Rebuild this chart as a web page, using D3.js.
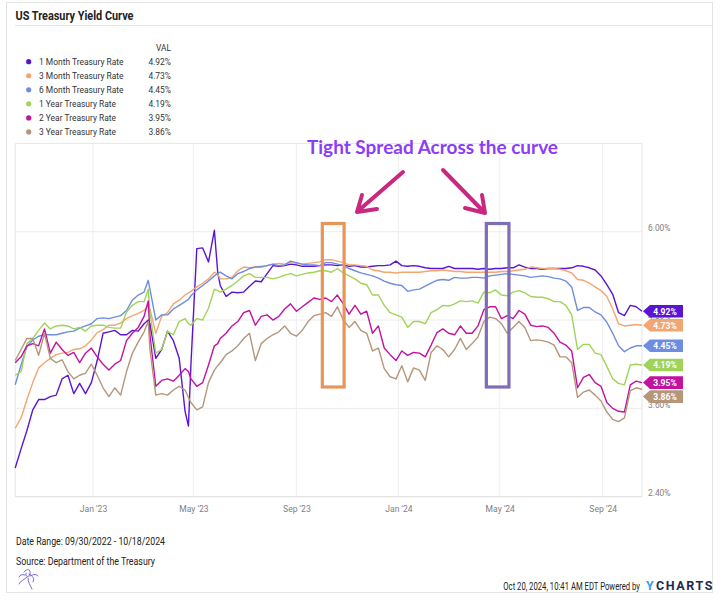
<!DOCTYPE html>
<html><head><meta charset="utf-8">
<script src="https://cdn.jsdelivr.net/npm/d3@7"></script>
<style>
html,body{margin:0;padding:0;background:#fff;}
svg{display:block;font-family:Roboto,"Noto Sans",sans-serif;}
</style></head><body>
<svg id="chart" width="727" height="606"></svg>
<script>
// ---------------- DATA ----------------
const dates = [
 "2022-09-30","2022-10-07","2022-10-14","2022-10-21","2022-10-28","2022-11-04","2022-11-11","2022-11-18","2022-11-25","2022-12-02","2022-12-09","2022-12-16","2022-12-23","2022-12-30",
 "2023-01-06","2023-01-13","2023-01-20","2023-01-27","2023-02-03","2023-02-10","2023-02-17","2023-02-24","2023-03-03","2023-03-08","2023-03-10","2023-03-17","2023-03-24","2023-03-31",
 "2023-04-07","2023-04-14","2023-04-21","2023-04-25","2023-04-28","2023-05-05","2023-05-12","2023-05-19","2023-05-26","2023-05-30",
 "2023-06-02","2023-06-09","2023-06-16","2023-06-23","2023-06-30","2023-07-07","2023-07-14","2023-07-21","2023-07-28","2023-08-04","2023-08-11","2023-08-18","2023-08-25","2023-09-01","2023-09-08","2023-09-15","2023-09-22","2023-09-29",
 "2023-10-06","2023-10-13","2023-10-20","2023-10-27","2023-11-03","2023-11-10","2023-11-17","2023-11-24","2023-12-01","2023-12-08","2023-12-15","2023-12-22","2023-12-29",
 "2024-01-05","2024-01-12","2024-01-19","2024-01-26","2024-02-02","2024-02-09","2024-02-16","2024-02-23","2024-03-01","2024-03-08","2024-03-15","2024-03-22","2024-03-29",
 "2024-04-05","2024-04-12","2024-04-19","2024-04-26","2024-05-03","2024-05-10","2024-05-17","2024-05-24","2024-05-31","2024-06-07","2024-06-14","2024-06-21","2024-06-28",
 "2024-07-05","2024-07-12","2024-07-19","2024-07-26","2024-08-02","2024-08-09","2024-08-16","2024-08-23","2024-08-30","2024-09-06","2024-09-13","2024-09-20","2024-09-27","2024-10-04","2024-10-11","2024-10-18"
];

const oneMonth = [
 2.79,3.05,3.30,3.58,3.72,3.72,3.76,3.78,4.00,4.05,3.80,3.94,3.80,3.95,
 4.25,4.62,4.64,4.66,4.60,4.60,4.66,4.65,4.75,4.80,4.75,4.28,4.40,4.65,
 4.52,4.28,3.56,3.36,4.20,5.77,5.78,5.59,6.02,5.45,
 5.27,5.12,5.18,5.17,5.18,5.26,5.33,5.32,5.43,5.54,5.53,5.54,5.56,5.55,5.53,5.53,5.53,5.54,
 5.55,5.55,5.54,5.55,5.53,5.54,5.52,5.52,5.53,5.54,5.54,5.55,5.60,
 5.54,5.53,5.54,5.53,5.51,5.50,5.50,5.50,5.53,5.50,5.50,5.50,5.50,
 5.49,5.50,5.49,5.50,5.50,5.51,5.51,5.55,5.52,5.50,5.50,5.49,5.50,
 5.50,5.50,5.50,5.51,5.54,5.53,5.51,5.48,5.40,5.28,5.15,4.90,4.86,5.00,4.98,4.92
];
const threeMonth = [
 3.33,3.47,3.72,3.95,4.15,4.22,4.28,4.33,4.35,4.36,4.40,4.41,4.45,4.53,
 4.63,4.67,4.73,4.73,4.76,4.82,4.86,4.89,4.93,5.00,4.95,4.62,4.85,4.90,
 5.02,5.07,5.14,5.17,5.19,5.25,5.30,5.36,5.45,5.42,
 5.36,5.36,5.38,5.47,5.52,5.51,5.52,5.53,5.54,5.56,5.57,5.56,5.58,5.57,5.56,5.57,5.58,5.59,
 5.62,5.62,5.60,5.58,5.55,5.55,5.54,5.53,5.48,5.47,5.45,5.45,5.44,
 5.45,5.45,5.45,5.45,5.46,5.47,5.47,5.48,5.47,5.46,5.46,5.45,5.45,
 5.45,5.45,5.45,5.45,5.46,5.46,5.47,5.48,5.49,5.52,5.51,5.50,5.50,
 5.50,5.49,5.47,5.44,5.35,5.34,5.30,5.25,5.20,5.12,4.95,4.75,4.72,4.73,4.74,4.73
];
const sixMonth = [
 3.92,4.19,4.44,4.53,4.58,4.60,4.60,4.60,4.62,4.64,4.65,4.69,4.72,4.75,
 4.82,4.83,4.82,4.84,4.86,4.93,5.07,5.14,5.18,5.34,5.22,4.80,4.87,4.87,
 4.95,5.00,5.05,5.08,5.13,5.21,5.27,5.33,5.40,5.43,
 5.45,5.40,5.36,5.43,5.46,5.50,5.52,5.52,5.54,5.56,5.54,5.55,5.60,5.58,5.56,5.55,5.55,5.54,
 5.58,5.58,5.56,5.54,5.50,5.47,5.44,5.42,5.40,5.37,5.33,5.30,5.28,
 5.27,5.19,5.21,5.22,5.26,5.30,5.34,5.35,5.34,5.38,5.37,5.37,5.38,
 5.38,5.37,5.40,5.41,5.42,5.43,5.42,5.41,5.40,5.38,5.39,5.40,5.39,
 5.37,5.36,5.33,5.25,4.93,4.97,4.97,4.91,4.87,4.77,4.62,4.45,4.37,4.42,4.45,4.45
];
const oneYear = [
 4.05,4.10,4.48,4.55,4.66,4.76,4.68,4.72,4.73,4.72,4.68,4.70,4.65,4.72,
 4.73,4.73,4.70,4.69,4.69,4.91,5.00,5.05,5.05,5.22,4.90,4.35,4.40,4.65,
 4.60,4.78,4.82,4.75,4.73,4.82,4.80,4.96,5.22,5.20,
 5.18,5.22,5.27,5.33,5.40,5.43,5.38,5.38,5.38,5.36,5.38,5.41,5.43,5.40,5.42,5.44,5.45,5.47,
 5.47,5.45,5.50,5.44,5.40,5.36,5.30,5.28,5.14,5.14,5.00,4.90,4.87,
 4.84,4.70,4.78,4.78,4.75,4.90,4.94,5.00,4.99,5.02,5.06,5.05,5.06,
 5.03,5.18,5.17,5.21,5.14,5.13,5.18,5.20,5.17,5.12,5.11,5.11,5.09,
 5.05,5.05,5.00,4.87,4.40,4.47,4.47,4.35,4.33,4.17,4.00,3.94,3.92,4.19,4.20,4.19
];
const twoYear = [
 4.22,4.30,4.45,4.48,4.45,4.68,4.35,4.50,4.40,4.32,4.36,4.22,4.35,4.42,
 4.30,4.20,4.12,4.20,4.25,4.52,4.62,4.70,4.85,5.06,4.60,3.90,3.98,4.00,
 3.97,4.05,4.14,4.10,4.00,3.90,3.95,4.19,4.45,4.48,
 4.55,4.62,4.72,4.78,4.90,4.93,4.73,4.85,4.87,4.80,4.85,4.95,5.02,4.92,4.98,5.04,5.10,5.08,
 5.10,5.05,5.14,5.02,4.88,5.00,4.88,4.92,4.62,4.72,4.42,4.33,4.25,
 4.38,4.32,4.36,4.35,4.30,4.46,4.63,4.68,4.62,4.60,4.72,4.62,4.62,
 4.72,4.94,4.98,4.98,4.82,4.86,4.82,4.93,4.88,4.73,4.71,4.72,4.70,
 4.62,4.50,4.46,4.38,3.88,4.02,4.06,3.95,3.90,3.68,3.60,3.56,3.55,3.92,3.97,3.95
];
const threeYear = [
 4.25,4.40,4.55,4.55,4.32,4.62,4.28,4.22,4.26,4.10,4.00,4.05,4.08,4.20,
 4.05,3.88,3.76,3.88,3.78,4.10,4.35,4.50,4.64,4.78,4.40,3.78,3.80,3.78,
 3.85,3.90,3.85,3.75,3.68,3.58,3.62,3.95,4.12,4.18,
 4.22,4.33,4.38,4.45,4.55,4.62,4.25,4.48,4.55,4.60,4.64,4.72,4.62,4.58,4.66,4.78,4.86,4.88,
 4.90,4.85,4.98,4.80,4.70,4.78,4.66,4.62,4.38,4.42,4.14,4.03,4.00,
 4.18,3.96,4.15,4.12,3.98,4.36,4.45,4.40,4.30,4.40,4.55,4.40,4.48,
 4.57,4.78,4.84,4.82,4.75,4.62,4.70,4.78,4.70,4.52,4.53,4.52,4.50,
 4.46,4.30,4.30,4.22,3.75,3.82,3.85,3.78,3.70,3.55,3.45,3.42,3.47,3.84,3.88,3.86
];

const seriesNames = ["1 Month Treasury Rate","3 Month Treasury Rate","6 Month Treasury Rate","1 Year Treasury Rate","2 Year Treasury Rate","3 Year Treasury Rate"];
const seriesColors = ["#5c14d4","#f2a672","#6d8de0","#a0d35a","#c2129f","#b5967a"];
const latestValues = [4.92,4.73,4.45,4.19,3.95,3.86];
const yTicks = [2.40,3.60,4.80,6.00];
const xTickDates = ["2023-01-01","2023-05-01","2023-09-01","2024-01-01","2024-05-01","2024-09-01"];
const xTickLabels = ["Jan '23","May '23","Sep '23","Jan '24","May '24","Sep '24"];
const annotationText = "Tight Spread Across the curve";
const spreadWindows = [["2023-10-02","2023-10-28"],["2024-04-15","2024-05-12"]];

// ---------------- CHART ----------------
const svg = d3.select("#chart");
const parse = d3.utcParse("%Y-%m-%d");
const P = {left:15.2, right:642, top:143.4, bottom:496.7};
const x = d3.scaleUtc().domain([parse(dates[0]), parse(dates[dates.length-1])]).range([P.left, P.right]);
const y = d3.scaleLinear().domain([2.40, 7.20]).range([P.bottom, P.top]);

function condense(sel, ratio){
  sel.each(function(){ const w=this.getComputedTextLength(); d3.select(this).attr("textLength", w*ratio).attr("lengthAdjust","spacingAndGlyphs"); });
}

// card
svg.append("rect").attr("x",6.5).attr("y",2.5).attr("width",706).attr("height",590)
  .attr("fill","#fff").attr("stroke","#e4e4e4");

// title
svg.append("text").attr("x",15.5).attr("y",20).attr("font-size",12.5).attr("font-weight",700).attr("fill","#222")
  .text("US Treasury Yield Curve").attr("textLength",118).attr("lengthAdjust","spacingAndGlyphs");
svg.append("line").attr("x1",15).attr("x2",712).attr("y1",25.5).attr("y2",25.5).attr("stroke","#e6e6e6");

// legend
const lg = svg.append("g");
lg.append("text").attr("x",171).attr("y",50.5).attr("text-anchor","end").attr("font-size",9.5).attr("fill","#333").text("VAL").call(condense,0.88);
seriesNames.forEach((n,i)=>{
  const cy = 61.7 + i*14.05;
  lg.append("circle").attr("cx",28.7).attr("cy",cy).attr("r",2.6).attr("fill",seriesColors[i]);
  lg.append("text").attr("x",39).attr("y",cy+3.4).attr("font-size",9.8).attr("fill","#333").text(n).call(condense,0.86);
  lg.append("text").attr("x",171).attr("y",cy+3.4).attr("text-anchor","end").attr("font-size",9.8).attr("fill","#333")
    .text(latestValues[i].toFixed(2)+"%").call(condense,0.86);
});

// grid
const grid = svg.append("g");
yTicks.forEach(v=>{
  grid.append("line").attr("x1",P.left).attr("x2",P.right).attr("y1",y(v)).attr("y2",y(v)).attr("stroke","#ececec");
});
xTickDates.forEach(d=>{
  const xx = x(parse(d));
  grid.append("line").attr("x1",xx).attr("x2",xx).attr("y1",P.top).attr("y2",P.bottom).attr("stroke","#efefef");
});
// frame
grid.append("line").attr("x1",P.left).attr("x2",P.right).attr("y1",P.top).attr("y2",P.top).attr("stroke","#e6e6e6");
grid.append("line").attr("x1",P.left).attr("x2",P.left).attr("y1",P.top).attr("y2",P.bottom).attr("stroke","#e6e6e6");
grid.append("line").attr("x1",P.right).attr("x2",P.right).attr("y1",P.top).attr("y2",P.bottom).attr("stroke","#e6e6e6");
grid.append("line").attr("x1",P.left).attr("x2",P.right).attr("y1",P.bottom).attr("y2",P.bottom).attr("stroke","#e2e2e2");

// axes
const yAxis = d3.axisRight(y).tickValues(yTicks).tickFormat(d=>d.toFixed(2)+"%").tickSize(0).tickPadding(6);
const gy = svg.append("g").attr("transform",`translate(${P.right},0)`).call(yAxis);
gy.select(".domain").remove();
gy.selectAll("text").attr("font-family","Roboto").attr("font-size",9.5).attr("fill","#808080").attr("dy","-0.12em").call(condense,0.88);

const xAxis = d3.axisBottom(x).tickValues(xTickDates.map(parse)).tickFormat((d,i)=>xTickLabels[i]).tickSize(0).tickPadding(9);
const gx = svg.append("g").attr("transform",`translate(0,${P.bottom})`).call(xAxis);
gx.select(".domain").remove();
gx.selectAll("text").attr("font-family","Roboto").attr("font-size",9.5).attr("fill","#808080").call(condense,0.9);

// lines
const allSeries = [oneMonth, threeMonth, sixMonth, oneYear, twoYear, threeYear];
const line = d3.line().x(d=>x(d.date)).y(d=>y(d.value));
allSeries.forEach((vals,i)=>{
  const pts = vals.map((v,j)=>({date:parse(dates[j]), value:v}));
  svg.append("path").datum(pts).attr("d",line).attr("fill","none")
    .attr("stroke",seriesColors[i]).attr("stroke-width",1.4).attr("stroke-linejoin","round");
});

// end labels
let laby = latestValues.map(v=>y(v));
const order = d3.range(laby.length).sort((a,b)=>laby[a]-laby[b]);
for(let k=1;k<order.length;k++){
  const prev = laby[order[k-1]], cur = laby[order[k]];
  if(cur - prev < 14) laby[order[k]] = prev + 14;
}
latestValues.forEach((v,i)=>{
  const cy = laby[i], x0 = P.right+1;
  const g = svg.append("g");
  g.append("path").attr("d",`M${x0},${cy} L${x0+7},${cy-6.3} L${x0+40},${cy-6.3} L${x0+40},${cy+6.3} L${x0+7},${cy+6.3} Z`)
    .attr("fill",seriesColors[i]);
  g.append("text").attr("x",x0+22).attr("y",cy+3.3).attr("text-anchor","middle").attr("font-size",9.5).attr("font-weight",700)
    .attr("fill","#fff").text(v.toFixed(2)+"%").call(condense,0.9);
});

// annotation
const ann = svg.append("g");
ann.append("text").attr("x",307).attr("y",154).attr("font-family","Lato").attr("font-weight",700).attr("font-size",18)
  .attr("fill","#8b3df5").text(annotationText).attr("textLength",251).attr("lengthAdjust","spacingAndGlyphs");
const arrowStyle = s=>s.attr("fill","none").attr("stroke","#c8287f").attr("stroke-width",4).attr("stroke-linecap","round").attr("stroke-linejoin","round");
ann.append("path").attr("d","M403,172 L358,211 M362,195 L357,212 L377,209").call(arrowStyle);
ann.append("path").attr("d","M443,170 L484,212 M482,195 L485,213 L465,208").call(arrowStyle);
const boxColors = ["#e8955a","#7e6db6"];
spreadWindows.forEach((w,i)=>{
  const x1 = x(parse(w[0])), x2 = x(parse(w[1]));
  ann.append("rect").attr("x",x1).attr("y",223.5).attr("width",x2-x1).attr("height",163.5)
    .attr("fill","none").attr("stroke",boxColors[i]).attr("stroke-width",3.2);
});

// footer
svg.append("text").attr("x",16).attr("y",545).attr("font-size",10).attr("fill","#222")
  .text("Date Range: 09/30/2022 - 10/18/2024").attr("textLength",149).attr("lengthAdjust","spacingAndGlyphs");
svg.append("text").attr("x",16).attr("y",565).attr("font-size",10).attr("fill","#222")
  .text("Source: Department of the Treasury").attr("textLength",139).attr("lengthAdjust","spacingAndGlyphs");
// condensed via horizontal scale so its box ends before the logo
const pw = svg.append("text").attr("font-size",10).attr("fill","#222").attr("text-anchor","end")
  .text("Oct 20, 2024, 10:41 AM EDT Powered by");
const natW = pw.node().getComputedTextLength();
pw.attr("transform",`translate(640,589.5) scale(${137/natW},1)`);
svg.append("text").attr("x",646).attr("y",590).attr("font-size",12.5).attr("font-weight",700).attr("fill","#3d9bf0").text("Y");
svg.append("text").attr("x",656).attr("y",590).attr("font-size",12.5).attr("font-weight",700).attr("fill","#1d2b4f")
  .attr("letter-spacing",1.6).text("CHARTS");

// small logo doodle
const logo = svg.append("g").attr("fill","none").attr("stroke","#6a5ad0").attr("stroke-width",0.9).attr("stroke-linecap","round");
logo.append("path").attr("d","M24,572 C27,568 31,569 30,574 C29,578 25,577 26,573");
logo.append("path").attr("d","M29,574 C33,576 35,579 33,582");
logo.append("path").attr("d","M27,577 C24,580 20,581 19,584");
logo.append("path").attr("d","M28,578 C28,582 30,585 32,589");
logo.append("path").attr("d","M30,576 C34,574 37,574 38,576");
logo.append("path").attr("d","M25,575 C22,574 20,575 19,577");
</script>
</body></html>
